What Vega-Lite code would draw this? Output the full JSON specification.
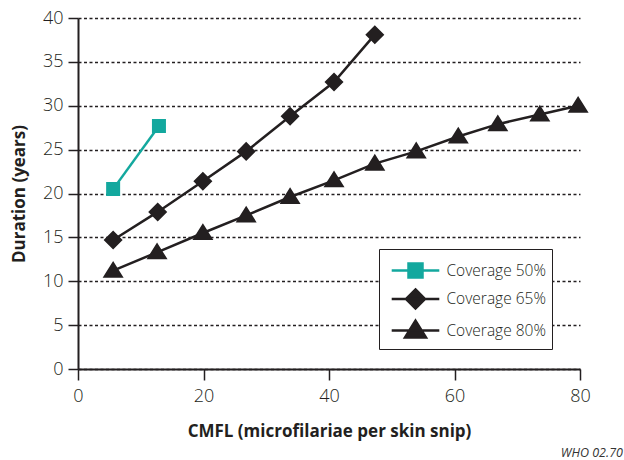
{
  "$schema": "https://vega.github.io/schema/vega-lite/v6.json",
  "width": 502,
  "height": 351,
  "autosize": "none",
  "padding": {"left": 78, "top": 18, "right": 44, "bottom": 91},
  "background": "white",
  "title": {"text": "WHO 02.70", "orient": "bottom", "anchor": "end", "dx": 21, "offset": 8, "fontSize": 12.5, "fontStyle": "italic", "fontWeight": "normal", "color": "#333", "font": "Open Sans"},
  "config": {
    "font": "Open Sans",
    "view": {"stroke": null},
    "axis": {"labelFont": "Open Sans", "titleFont": "Open Sans"}
  },
  "data": {
    "values": [
      {"series": "Coverage 50%", "cmfl": 5.6, "duration": 20.5},
      {"series": "Coverage 50%", "cmfl": 12.9, "duration": 27.7},
      {"series": "Coverage 65%", "cmfl": 5.6, "duration": 14.7},
      {"series": "Coverage 65%", "cmfl": 12.7, "duration": 17.9},
      {"series": "Coverage 65%", "cmfl": 19.9, "duration": 21.4},
      {"series": "Coverage 65%", "cmfl": 26.8, "duration": 24.8},
      {"series": "Coverage 65%", "cmfl": 33.8, "duration": 28.8},
      {"series": "Coverage 65%", "cmfl": 40.8, "duration": 32.7},
      {"series": "Coverage 65%", "cmfl": 47.3, "duration": 38.1},
      {"series": "Coverage 80%", "cmfl": 5.6, "duration": 11.2},
      {"series": "Coverage 80%", "cmfl": 12.6, "duration": 13.3},
      {"series": "Coverage 80%", "cmfl": 19.9, "duration": 15.5},
      {"series": "Coverage 80%", "cmfl": 26.8, "duration": 17.5},
      {"series": "Coverage 80%", "cmfl": 33.8, "duration": 19.6},
      {"series": "Coverage 80%", "cmfl": 40.8, "duration": 21.5},
      {"series": "Coverage 80%", "cmfl": 47.3, "duration": 23.4},
      {"series": "Coverage 80%", "cmfl": 53.9, "duration": 24.8},
      {"series": "Coverage 80%", "cmfl": 60.6, "duration": 26.5},
      {"series": "Coverage 80%", "cmfl": 66.9, "duration": 27.9},
      {"series": "Coverage 80%", "cmfl": 73.6, "duration": 29.0},
      {"series": "Coverage 80%", "cmfl": 79.7, "duration": 30.0}
    ]
  },
  "encoding": {
    "x": {
      "field": "cmfl", "type": "quantitative",
      "scale": {"domain": [0, 80], "nice": false, "zero": true},
      "axis": {
        "title": "CMFL (microfilariae per skin snip)",
        "values": [0, 20, 40, 60, 80],
        "grid": false, "labelFlush": false,
        "domainColor": "#231f20", "domainWidth": 2,
        "tickColor": "#231f20", "tickWidth": 1.5, "tickSize": 11,
        "labelFontSize": 18, "labelFontWeight": 300, "labelColor": "#231f20", "labelPadding": 7,
        "titleFontSize": 17, "titleFontWeight": "bold", "titleColor": "#231f20", "titlePadding": 18
      }
    },
    "y": {
      "field": "duration", "type": "quantitative",
      "scale": {"domain": [0, 40], "nice": false},
      "axis": {
        "title": "Duration (years)",
        "values": [0, 5, 10, 15, 20, 25, 30, 35, 40],
        "grid": true, "gridColor": "#231f20", "gridDash": [3, 2.5], "gridWidth": 1.3,
        "domainColor": "#231f20", "domainWidth": 2,
        "tickColor": "#231f20", "tickWidth": 1.5, "tickSize": 10,
        "labelFontSize": 18, "labelFontWeight": 300, "labelColor": "#231f20", "labelPadding": 5,
        "titleFontSize": 17, "titleFontWeight": "bold", "titleColor": "#231f20", "titlePadding": 14
      }
    },
    "color": {
      "field": "series", "type": "nominal",
      "scale": {"domain": ["Coverage 50%", "Coverage 65%", "Coverage 80%"], "range": ["#13a89e", "#231f20", "#231f20"]},
      "legend": {
        "orient": "none", "legendX": 301, "legendY": 231,
        "title": null,
        "padding": 6,
        "strokeColor": "#231f20", "fillColor": "white",
        "labelFontSize": 15.5, "labelFontWeight": 300, "labelColor": "#231f20",
        "symbolSize": 784, "symbolOffset": 15, "labelOffset": 15.5, "rowPadding": 0.5,
        "symbolStrokeWidth": 2.5
      }
    }
  },
  "layer": [
    {
      "mark": {"type": "line", "strokeWidth": 2.5},
      "encoding": {"detail": {"field": "series", "type": "nominal"}}
    },
    {
      "mark": {"type": "point", "filled": true, "opacity": 1, "size": 784, "strokeWidth": 0},
      "encoding": {
        "stroke": {
          "field": "series", "type": "nominal",
          "scale": {"domain": ["Coverage 50%", "Coverage 65%", "Coverage 80%"], "range": ["#13a89e", "#231f20", "#231f20"]}
        },
        "shape": {
          "field": "series", "type": "nominal",
          "scale": {"domain": ["Coverage 50%", "Coverage 65%", "Coverage 80%"], "range": [
            "M-1.7,0H1.7M-0.5,-0.5H0.5V0.5H-0.5Z",
            "M-1.7,0H1.7M0,-0.68L0.68,0L0,0.68L-0.68,0Z",
            "M-1.7,0H1.7M0,-0.7L0.75,0.5L-0.75,0.5Z"
          ]}
        }
      }
    }
  ]
}
